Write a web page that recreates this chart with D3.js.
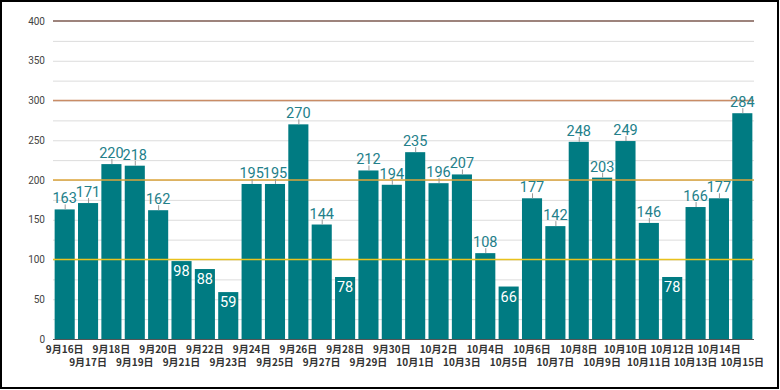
<!DOCTYPE html>
<html><head><meta charset="utf-8">
<script src="https://cdn.jsdelivr.net/npm/d3@7"></script>
<style>
html,body{margin:0;padding:0;background:#fff;}
svg{display:block;}
</style></head>
<body>
<svg id="c" width="780" height="390"></svg>
<script>
const categories = ["9月16日","9月17日","9月18日","9月19日","9月20日","9月21日","9月22日","9月23日","9月24日","9月25日","9月26日","9月27日","9月28日","9月29日","9月30日","10月1日","10月2日","10月3日","10月4日","10月5日","10月6日","10月7日","10月8日","10月9日","10月10日","10月11日","10月12日","10月13日","10月14日","10月15日"];
const values = [163,171,220,218,162,98,88,59,195,195,270,144,78,212,194,235,196,207,108,66,177,142,248,203,249,146,78,166,177,284];
const yTicks = [0,50,100,150,200,250,300,350,400];
const refLines = [
  {v:400, color:"#7d5a50"},
  {v:300, color:"#c98c66"},
  {v:200, color:"#dca43a"},
  {v:100, color:"#e9c21e"}
];

(function(){
const svg = d3.select("#c");
svg.append("rect").attr("x",1).attr("y",1).attr("width",777).attr("height",387)
  .attr("fill","#fff").attr("stroke","#000").attr("stroke-width",2);

const pL = 53, pR = 754, pT = 21, pB = 339;
const x = d3.scaleBand().domain(categories).range([pL, pR]).paddingInner(0.14).paddingOuter(0.07);
const y = d3.scaleLinear().domain([0,400]).range([pB, pT]);

// minor gridlines every 25
const grid = d3.range(25, 400, 25);
svg.append("g").selectAll("line").data(grid).join("line")
  .attr("x1", pL).attr("x2", pR)
  .attr("y1", d => y(d)+0.5).attr("y2", d => y(d)+0.5)
  .attr("stroke", "#dcdcdc").attr("stroke-width", 1);

// y axis labels
const yAxis = d3.axisLeft(y).tickValues(yTicks).tickSize(0).tickPadding(8);
const ya = svg.append("g").attr("transform", `translate(${pL},0)`).call(yAxis);
ya.select(".domain").remove();
ya.selectAll("text").attr("font-family","Roboto, sans-serif").attr("font-size",10).attr("fill","#444");

// bars
svg.append("g").selectAll("rect").data(values).join("rect")
  .attr("x", (d,i) => x(categories[i]))
  .attr("width", x.bandwidth())
  .attr("y", d => y(d))
  .attr("height", d => y(0) - y(d))
  .attr("fill", "#007b82");

// reference lines on top of bars
svg.append("g").selectAll("line").data(refLines).join("line")
  .attr("x1", pL).attr("x2", pR)
  .attr("y1", d => y(d.v)).attr("y2", d => y(d.v))
  .attr("stroke", d => d.color).attr("stroke-width", 1.6);

// baseline
svg.append("line").attr("x1", pL).attr("x2", pR)
  .attr("y1", y(0)+0.5).attr("y2", y(0)+0.5).attr("stroke","#555").attr("stroke-width",1);

// value labels
const lab = svg.append("g");
values.forEach((v,i) => {
  const cx = x(categories[i]) + x.bandwidth()/2;
  if (v >= 100) {
    lab.append("line").attr("x1", cx+0.5).attr("x2", cx+0.5)
      .attr("y1", y(v)).attr("y2", y(v)-5).attr("stroke","#999").attr("stroke-width",1);
    lab.append("text").attr("x", cx).attr("y", y(v)-6)
      .attr("text-anchor","middle").attr("font-family","Roboto, sans-serif")
      .attr("font-size",14.5).attr("fill","#23808a").text(v);
  } else {
    lab.append("text").attr("x", cx).attr("y", y(v)+15)
      .attr("text-anchor","middle").attr("font-family","Roboto, sans-serif")
      .attr("font-size",14.5).attr("fill","#ffffff").text(v);
  }
});

// x axis labels, staggered
const xa = svg.append("g");
categories.forEach((c,i) => {
  const cx = x(c) + x.bandwidth()/2;
  xa.append("text").attr("x", cx).attr("y", i % 2 === 0 ? 353 : 366)
    .attr("text-anchor","middle").attr("font-family","'Noto Sans CJK JP', sans-serif")
    .attr("font-size",10).attr("font-weight","bold").attr("fill","#333").text(c);
});
})();
</script>
</body></html>
